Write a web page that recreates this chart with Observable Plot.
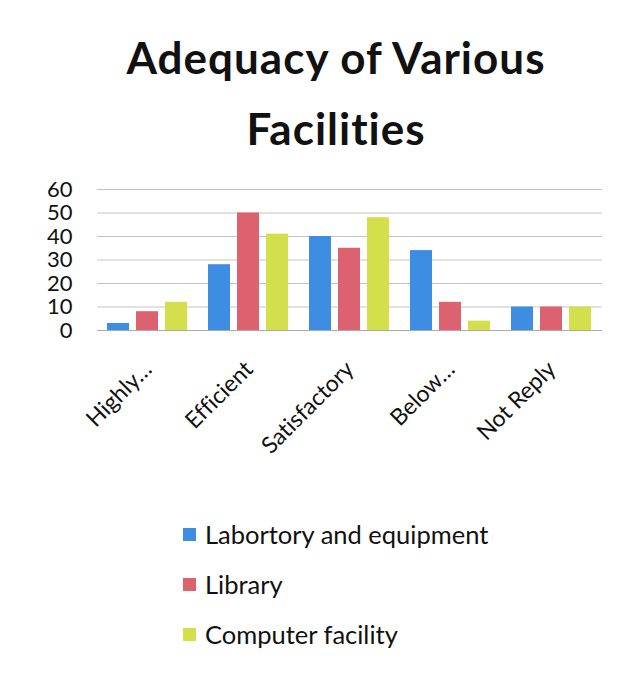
<!DOCTYPE html>
<html>
<head>
<meta charset="utf-8">
<script src="https://cdn.jsdelivr.net/npm/d3@7"></script>
<script src="https://cdn.jsdelivr.net/npm/@observablehq/plot@0.6"></script>
<style>
  html, body { margin: 0; padding: 0; background: #fff; }
  body { width: 636px; height: 673px; overflow: hidden; font-family: Lato, "Open Sans", sans-serif; color: #111; font-variant-ligatures: none; font-feature-settings: "liga" 0, "clig" 0; }
  svg text { font-variant-ligatures: none; font-feature-settings: "liga" 0, "clig" 0; }
  #title { text-align: center; font-weight: 700; font-size: 44px; letter-spacing: 1px; line-height: 71px; padding-top: 22px; padding-left: 36px; height: 170px; box-sizing: border-box; }
  #chart { height: 310px; }
  #chart g[aria-label="fx-axis tick label"] { font-size: 23px; }
  #legend { padding-left: 183px; margin-top: 29px; }
  .item { display: flex; align-items: center; height: 50px; font-size: 25.5px; }
  .sw { width: 13px; height: 13px; margin-right: 9px; }
</style>
</head>
<body>
<div id="title">Adequacy of Various<br>Facilities</div>
<div id="chart"></div>
<div id="legend"></div>
<script>
const categories = ["Highly…", "Efficient", "Satisfactory", "Below…", "Not Reply"];
const seriesNames = ["Labortory and equipment", "Library", "Computer facility"];
const seriesColors = ["#3d8de3", "#dc6270", "#d3e04c"];
const laboratory = [3, 28, 40, 34, 10];
const library = [8, 50, 35, 12, 10];
const computer = [12, 41, 48, 4, 10];
const yTicks = [0, 10, 20, 30, 40, 50, 60];

const seriesValues = [laboratory, library, computer];
const data = [];
categories.forEach((c, i) => {
  seriesNames.forEach((s, j) => data.push({category: c, series: s, value: seriesValues[j][i]}));
});

const chart = Plot.plot({
  width: 636,
  height: 310,
  marginTop: 19,
  marginBottom: 150,
  marginLeft: 96,
  marginRight: 33,
  style: {fontFamily: "Lato, 'Open Sans', sans-serif", fontSize: "22px", color: "#111", background: "transparent"},
  fx: {domain: categories, padding: 0, label: null, tickSize: 0, tickPadding: 35, tickRotate: -45},
  x: {domain: seriesNames, axis: null, paddingInner: 0.23, paddingOuter: 0.3},
  y: {domain: [0, 60], ticks: yTicks, tickSize: 0, tickPadding: 25, label: null},
  color: {domain: seriesNames, range: seriesColors},
  marks: [
    Plot.gridY(yTicks, {stroke: "#c4c4c4", strokeOpacity: 1, strokeWidth: 1}),
    Plot.barY(data, {fx: "category", x: "series", y: "value", fill: "series"}),
    Plot.ruleY([0], {stroke: "#aaa"})
  ]
});
document.getElementById("chart").appendChild(chart);

const legend = document.getElementById("legend");
seriesNames.forEach((s, j) => {
  const d = document.createElement("div");
  d.className = "item";
  d.innerHTML = `<span class="sw" style="background:${seriesColors[j]}"></span><span>${s}</span>`;
  legend.appendChild(d);
});
</script>
</body>
</html>
